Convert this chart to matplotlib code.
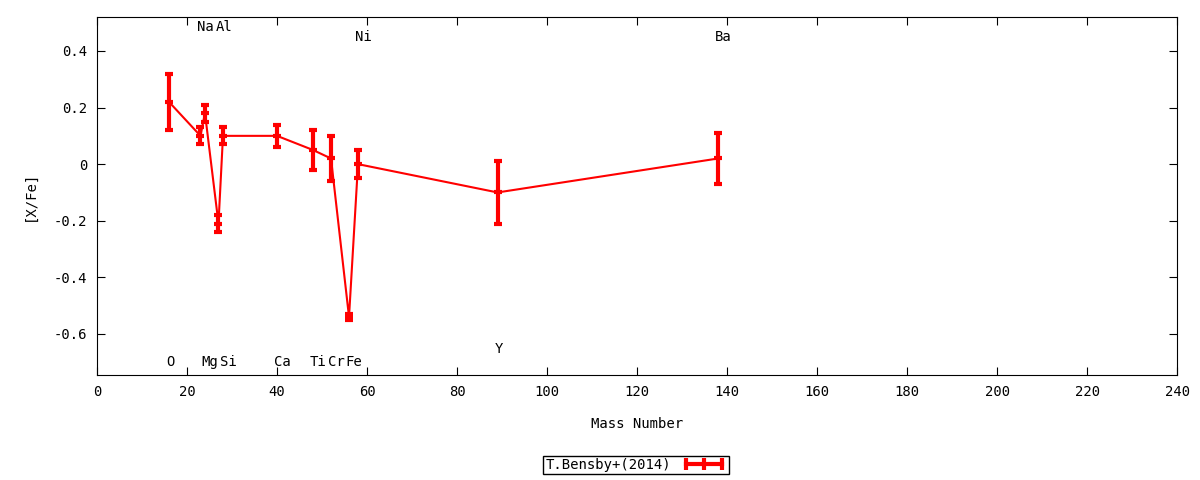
import matplotlib
matplotlib.use("Agg")
import matplotlib.pyplot as plt
from matplotlib.lines import Line2D
from matplotlib.ticker import FuncFormatter, MultipleLocator


elements = ["O", "Na", "Mg", "Al", "Si", "Ca", "Ti", "Cr", "Fe", "Ni", "Y", "Ba"]
mass_number = [16, 23, 24, 27, 28, 40, 48, 52, 56, 58, 89, 138]
x_fe = [0.22, 0.10, 0.18, -0.21, 0.10, 0.10, 0.05, 0.02, -0.54, 0.00, -0.10, 0.02]
x_fe_err = [0.10, 0.03, 0.03, 0.03, 0.03, 0.04, 0.07, 0.08, 0.01, 0.05, 0.11, 0.09]
# where each element name sits, in [X/Fe] units
label_y = [-0.70, 0.484, -0.70, 0.484, -0.70, -0.70, -0.70, -0.70, -0.70, 0.449, -0.652, 0.449]


def fmt_y(v, pos):
    if abs(v) < 1e-9:
        return "0"
    return f"{v:.1f}"


def main():
    plt.rcParams["font.family"] = ["DejaVu Sans Mono", "DejaVu Sans"]
    plt.rcParams["axes.unicode_minus"] = False

    fig = plt.figure(figsize=(12, 4.8), dpi=100)
    ax = fig.add_axes([0.0808, 0.2188, 0.9002, 0.7458])

    ax.errorbar(
        mass_number, x_fe, yerr=x_fe_err,
        color="#ff0000", lw=1.5, elinewidth=3, capsize=3, capthick=3,
        marker="_", ms=6, mew=3,
    )
    for name, m, ly in zip(elements, mass_number, label_y):
        ax.text(m - 0.7, ly, name, ha="left", va="center", fontsize=10)

    ax.set_xlim(0, 240)
    ax.set_ylim(-0.745, 0.52)
    ax.xaxis.set_major_locator(MultipleLocator(20))
    ax.yaxis.set_major_locator(MultipleLocator(0.2))
    ax.yaxis.set_major_formatter(FuncFormatter(fmt_y))
    ax.tick_params(direction="in", length=6, top=True, right=True,
                   labelsize=10, pad=7)
    ax.set_xlabel("Mass Number", fontsize=10, labelpad=13)
    ax.set_ylabel("[X/Fe]", fontsize=10, labelpad=12)

    handle = Line2D([], [], color="#ff0000", lw=3, marker="|", ms=8, mew=3)
    fig.legend(
        [handle], ["T.Bensby+(2014)"], loc="center",
        bbox_to_anchor=(0.53, 0.031), numpoints=3, markerfirst=False,
        fancybox=False, framealpha=1, edgecolor="black", fontsize=10,
        handlelength=3.2, borderpad=0.15, handletextpad=0.8, borderaxespad=0,
    )
    fig.savefig("out.png", dpi=100)


if __name__ == "__main__":
    main()
